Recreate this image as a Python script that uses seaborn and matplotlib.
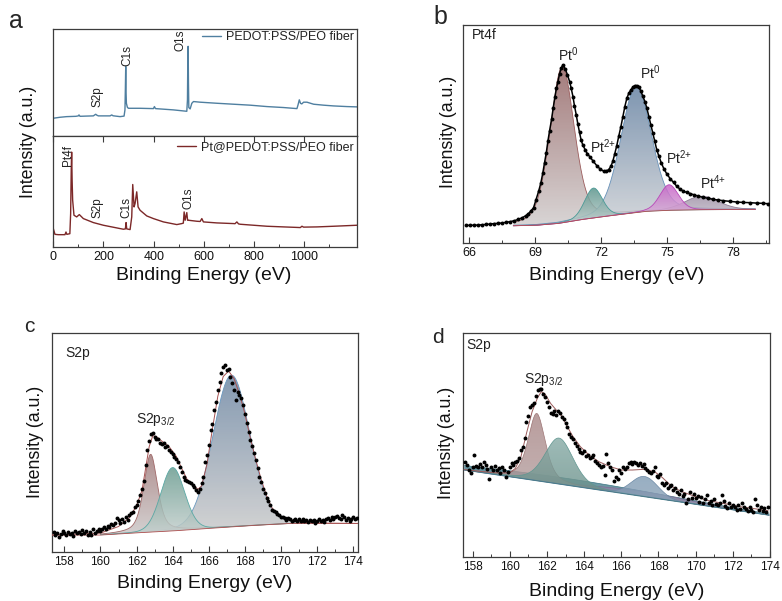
import numpy as np
import matplotlib
matplotlib.use("Agg")
import matplotlib.pyplot as plt
import seaborn as sns
from matplotlib.colors import LinearSegmentedColormap
from matplotlib.patches import Polygon
from matplotlib.ticker import MultipleLocator, FixedLocator

# ---------------------------------------------------------------- survey (a)
survey_energy_pedot = [0, 26.6, 53.2, 90, 99.7, 102.4, 106.4, 130, 159.6, 165.0,
                       168.9, 174.0, 179.5, 226.1, 232.7, 238.0, 266.0, 281.9, 285.5, 287.2,
                       288.6, 290.0, 291.2, 295.0, 299.2, 345.7, 398.9, 402.9, 407.0, 478.7,
                       531.9, 534.5, 535.9, 537.2, 538.5, 539.9, 545.2, 551.9, 558.5, 585.1,
                       651.6, 718.1, 784.6, 851.1, 917.6, 970.7, 975.0, 980.1, 985.0, 990.0,
                       997.3, 1010.6, 1037.2, 1077.1, 1117.0, 1170.2, 1210.1]
survey_counts_pedot = [16.6, 17.5, 18.1, 18.4, 18.8, 19.7, 18.4, 18.6, 18.8, 19.7,
                       20.3, 19.4, 18.8, 18.8, 19.7, 18.9, 18.1, 18.6, 24.4, 45.0,
                       65.0, 40.0, 30.6, 26.9, 25.9, 25.9, 25.6, 27.5, 25.6, 24.4,
                       23.1, 33.8, 70.0, 83.8, 50.0, 26.6, 25.3, 30.6, 32.2, 31.6,
                       30.6, 29.7, 28.8, 27.5, 26.6, 25.6, 29.0, 33.8, 30.5, 30.0,
                       31.6, 31.6, 29.7, 28.8, 28.1, 27.5, 27.2]

survey_energy_pt = [0, 6.6, 20.0, 46.5, 50.5, 54.0, 59.8, 66.0, 69.1, 71.5,
                    73.1, 75.0, 77.1, 82.4, 93.1, 103.7, 119.7, 159.6, 199.5, 252.7,
                    279.3, 287.2, 289.9, 292.6, 305.9, 312.5, 316.5, 321.8, 325.8, 332.4,
                    337.8, 345.7, 372.3, 398.9, 438.8, 492.0, 512.0, 518.0, 521.3, 525.3,
                    531.9, 535.0, 538.6, 571.8, 585.0, 591.8, 598.0, 651.6, 718.1, 724.0,
                    731.4, 738.0, 744.7, 851.1, 917.6, 975.0, 984.0, 990.7, 997.0, 1050.5,
                    1117.0, 1210.1]
survey_counts_pt = [16.6, 11.4, 11.1, 11.1, 13.5, 11.4, 11.7, 12.0, 30.1, 70.0,
                    85.5, 60.0, 42.2, 28.6, 27.1, 29.2, 25.6, 22.0, 19.6, 17.2,
                    16.0, 16.3, 22.0, 16.3, 15.7, 27.1, 56.3, 36.1, 39.2, 49.7,
                    36.1, 33.1, 28.0, 25.6, 22.6, 20.2, 21.1, 21.5, 31.6, 24.1,
                    31.0, 24.1, 24.1, 23.2, 23.0, 25.6, 22.6, 21.7, 21.1, 21.0,
                    22.6, 20.8, 20.5, 18.7, 18.1, 17.6, 17.5, 18.7, 17.9, 18.1,
                    18.7, 19.6]

# ---------------------------------------------------------------- Pt4f (b)
pt4f_energy = [65.86, 66.05, 66.23, 66.41, 66.59, 66.77, 66.95, 67.13, 67.32, 67.50,
               67.68, 67.86, 68.04, 68.22, 68.41, 68.56, 68.68, 68.80, 68.92,
               69.03, 69.15, 69.25, 69.34, 69.42, 69.50, 69.57, 69.65, 69.74, 69.81,
               69.89, 69.96, 70.03, 70.10, 70.18,
               70.25, 70.37, 70.46, 70.56, 70.63, 70.71, 70.78, 70.86, 70.93, 71.01,
               71.08, 71.16, 71.27, 71.37, 71.49, 71.64, 71.80, 71.95, 72.10, 72.22,
               72.33, 72.43, 72.52, 72.61, 72.70, 72.79, 72.89, 72.98, 73.07, 73.16,
               73.25, 73.34, 73.43, 73.52, 73.61, 73.70,
               73.79, 73.88, 73.98, 74.07, 74.16, 74.25, 74.34, 74.43, 74.52, 74.61,
               74.73, 74.85, 74.97, 75.13, 75.28, 75.43, 75.58, 75.73, 75.88, 76.03,
               76.21, 76.41, 76.64, 76.86, 77.09, 77.32, 77.55, 77.85, 78.15, 78.45,
               78.76, 79.06, 79.36, 79.59]
pt4f_counts = [8.1, 8.1, 8.2, 8.2, 8.4, 8.5, 8.7, 8.9, 9.0, 9.2,
               9.5, 9.8, 10.2, 10.8, 11.6, 12.5, 13.4, 14.7, 16.2,
               19.8, 23.7, 27.5, 32.1, 36.9, 41.5, 46.6, 51.6, 56.8, 61.8,
               66.9, 71.0, 74.0, 77.6, 80.2,
               81.7, 79.7, 77.1, 74.0, 71.0, 67.2, 62.9, 58.8, 54.7, 50.7,
               47.3, 44.9, 42.7, 40.9, 39.4, 37.4, 35.4, 33.9, 33.0, 33.0,
               33.6, 35.1, 37.4, 40.9, 44.6, 48.9, 53.4, 58.0, 62.6, 66.4,
               68.7, 70.2, 71.5, 72.2, 72.2, 71.5,
               69.9, 67.5, 64.9, 61.8, 58.0, 54.2, 50.4, 46.6, 42.7, 40.0,
               36.6, 33.9, 31.8, 29.5, 27.8, 26.0, 24.7, 23.8, 23.2, 22.7,
               22.1, 21.5, 20.9, 20.5, 20.0, 19.7, 19.4, 19.1, 18.8, 18.6,
               18.5, 18.3, 18.2, 18.0]
pt4f_bg_energy = [68.0, 69.0, 70.0, 71.0, 72.0, 73.0, 74.0, 75.0, 76.0, 77.0, 79.0]
pt4f_bg_level = [7.9, 8.1, 8.9, 10.6, 12.0, 13.2, 14.5, 15.0, 15.2, 15.3, 15.4]
# components: Pt0 4f7/2, Pt2+ 4f7/2, Pt0 4f5/2, Pt2+ 4f5/2, Pt4+
pt4f_center = [70.22, 71.64, 73.58, 75.08, 76.56]
pt4f_height = [71.6, 13.7, 58.0, 11.7, 6.2]
pt4f_fwhm = [1.30, 0.95, 1.65, 1.00, 1.80]
pt4f_eta = [0.3, 0.2, 0.2, 0.2, 0.2]

# ---------------------------------------------------------------- S2p (c)
s2p_c_energy = [157.4, 157.5, 157.6, 157.7, 157.8, 157.9, 158.0, 158.1, 158.2, 158.3,
                158.4, 158.5, 158.6, 158.7, 158.8, 158.9, 159.0, 159.1, 159.2, 159.3,
                159.4, 159.5, 159.6, 159.7, 159.8, 159.9, 160.0, 160.1, 160.2, 160.3,
                160.4, 160.5, 160.6, 160.7, 160.8, 160.9, 161.0, 161.1, 161.2, 161.3,
                161.4, 161.5, 161.6, 161.7, 161.8, 161.9, 162.0, 162.1, 162.2, 162.3,
                162.4, 162.5, 162.6, 162.7, 162.8, 162.9, 163.0, 163.1, 163.2, 163.3,
                163.4, 163.5, 163.6, 163.7, 163.8, 163.9, 164.0, 164.1, 164.2, 164.3,
                164.4, 164.5, 164.6, 164.7, 164.8, 164.9, 165.0, 165.1, 165.2, 165.3,
                165.4, 165.5, 165.6, 165.7, 165.8, 165.9, 166.0, 166.1, 166.2, 166.3,
                166.4, 166.5, 166.6, 166.7, 166.8, 166.9, 167.0, 167.1, 167.2, 167.3,
                167.4, 167.5, 167.6, 167.7, 167.8, 167.9, 168.0, 168.1, 168.2, 168.3,
                168.4, 168.5, 168.6, 168.7, 168.8, 168.9, 169.0, 169.1, 169.2, 169.3,
                169.4, 169.5, 169.6, 169.7, 169.8, 169.9, 170.0, 170.1, 170.2, 170.3,
                170.4, 170.5, 170.6, 170.7, 170.8, 170.9, 171.0, 171.1, 171.2, 171.3,
                171.4, 171.5, 171.6, 171.7, 171.8, 171.9, 172.0, 172.1, 172.2, 172.3,
                172.4, 172.5, 172.6, 172.7, 172.8, 172.9, 173.0, 173.1, 173.2, 173.3,
                173.4, 173.5, 173.6, 173.7, 173.8, 173.9, 174.0, 174.1, 174.2]
s2p_c_counts = [9.1, 7.6, 8.4, 6.8, 8.1, 9.6, 8.4, 7.5, 9.0, 8.1,
                8.7, 7.2, 9.6, 8.4, 9.0, 8.1, 9.9, 8.7, 9.3, 7.8,
                9.0, 7.6, 10.2, 8.7, 9.6, 10.5, 9.3, 10.5, 11.1, 10.2,
                11.7, 11.1, 12.6, 12.0, 12.9, 15.4, 14.5, 12.9, 14.8, 13.7,
                15.7, 14.5, 16.6, 17.8, 18.3, 20.2, 21.3, 23.3, 25.9, 28.5,
                32.4, 39.6, 46.4, 50.7, 53.7, 54.3, 52.5, 51.6, 51.6, 49.5,
                49.2, 49.8, 47.6, 48.2, 46.4, 45.5, 44.6, 43.4, 42.2, 40.9,
                38.8, 36.5, 33.9, 32.7, 32.4, 31.8, 31.2, 30.3, 29.4, 28.2,
                27.4, 28.5, 31.5, 33.9, 41.1, 44.1, 48.7, 55.6, 58.3, 64.7,
                68.5, 73.8, 77.6, 81.4, 84.2, 85.2, 83.0, 83.6, 79.6, 76.9,
                73.8, 69.3, 73.1, 71.5, 70.0, 67.0, 62.9, 58.9, 54.8, 51.0,
                48.2, 44.9, 41.9, 38.1, 34.2, 32.0, 28.5, 26.9, 24.4, 23.3,
                21.3, 19.0, 18.7, 18.1, 17.2, 16.6, 16.0, 16.0, 15.4, 14.5,
                15.2, 14.8, 13.9, 14.5, 15.1, 14.0, 14.8, 14.2, 15.1, 13.9,
                14.5, 13.4, 14.6, 13.9, 14.5, 13.2, 14.2, 14.8, 13.9, 14.5,
                13.5, 14.8, 15.4, 14.5, 16.0, 15.1, 16.0, 16.3, 15.4, 14.8,
                16.6, 15.7, 14.5, 15.4, 14.2, 15.1, 16.0, 14.8, 15.4]
s2p_c_bg_energy = [157.3, 160.0, 162.2, 164.2, 166.3, 168.5, 170.5, 174.3]
s2p_c_bg_level = [7.6, 7.6, 8.7, 9.6, 10.8, 12.0, 12.9, 12.9]
s2p_c_env_energy = [157.3, 160.0, 161.0, 161.6, 162.0, 162.3, 162.5, 162.7, 162.9, 163.1,
                    163.4, 163.8, 164.2, 164.5, 164.8, 165.1, 165.4, 165.6, 165.9, 166.2,
                    166.5, 166.8, 167.1, 167.4, 167.7, 168.0, 168.3, 168.6, 168.9, 169.2,
                    169.5, 169.9, 170.4, 171.0, 172.0, 174.3]
s2p_c_env_level = [7.6, 8.5, 11.5, 15.5, 21.0, 28.0, 38.0, 48.0, 53.0, 52.5,
                   50.5, 48.0, 43.5, 38.0, 33.0, 30.5, 28.5, 30.0, 40.0, 56.0,
                   71.0, 80.0, 82.5, 79.0, 72.0, 63.0, 52.0, 42.0, 33.0, 25.5,
                   20.0, 16.5, 14.5, 13.5, 13.1, 12.9]
# components: S2p3/2 (thiophene), S2p1/2 (thiophene), sulfonate
s2p_c_center = [162.78, 164.00, 167.25]
s2p_c_height = [35.5, 28.9, 69.3]
s2p_c_fwhm = [0.90, 1.55, 2.43]
s2p_c_eta = [0.5, 0.1, 0.1]

# ---------------------------------------------------------------- S2p (d)
s2p_d_energy = [157.6, 157.7, 157.8, 157.9, 158.0, 158.1, 158.2, 158.3, 158.4, 158.5,
                158.6, 158.7, 158.8, 158.9, 159.0, 159.1, 159.2, 159.3, 159.4, 159.5,
                159.6, 159.7, 159.8, 159.9, 160.0, 160.1, 160.2, 160.3, 160.4, 160.5,
                160.6, 160.7, 160.8, 160.9, 161.0, 161.1, 161.2, 161.3, 161.4, 161.5,
                161.6, 161.7, 161.8, 161.9, 162.0, 162.1, 162.2, 162.3, 162.4, 162.5,
                162.6, 162.7, 162.8, 162.9, 163.0, 163.1, 163.2, 163.3, 163.4, 163.5,
                163.6, 163.7, 163.8, 163.9, 164.0, 164.1, 164.2, 164.3, 164.4, 164.5,
                164.6, 164.7, 164.8, 164.9, 165.0, 165.1, 165.2, 165.3, 165.4, 165.5,
                165.6, 165.7, 165.8, 165.9, 166.0, 166.1, 166.2, 166.3, 166.4, 166.5,
                166.6, 166.7, 166.8, 166.9, 167.0, 167.1, 167.2, 167.3, 167.4, 167.5,
                167.6, 167.7, 167.8, 167.9, 168.0, 168.1, 168.2, 168.3, 168.4, 168.5,
                168.6, 168.7, 168.8, 168.9, 169.0, 169.1, 169.2, 169.3, 169.4, 169.5,
                169.6, 169.7, 169.8, 169.9, 170.0, 170.1, 170.2, 170.3, 170.4, 170.5,
                170.6, 170.7, 170.8, 170.9, 171.0, 171.1, 171.2, 171.3, 171.4, 171.5,
                171.6, 171.7, 171.8, 171.9, 172.0, 172.1, 172.2, 172.3, 172.4, 172.5,
                172.6, 172.7, 172.8, 172.9, 173.0, 173.1, 173.2, 173.3, 173.4, 173.5,
                173.6, 173.7, 173.8, 173.9]
s2p_d_counts = [42.4, 40.9, 38.7, 37.2, 40.2, 45.4, 40.5, 40.2, 41.4, 40.2,
                42.4, 40.9, 39.0, 34.5, 39.9, 38.7, 40.5, 38.7, 39.4, 37.5,
                40.2, 38.7, 35.4, 37.9, 40.2, 41.7, 40.9, 42.4, 42.9, 43.9,
                47.6, 49.1, 52.8, 60.3, 62.8, 67.0, 67.7, 68.4, 71.7, 74.4,
                75.0, 74.7, 72.6, 71.1, 69.2, 67.0, 64.3, 63.7, 65.2, 63.2,
                65.2, 64.0, 62.5, 61.3, 59.8, 58.0, 54.8, 53.6, 52.4, 50.6,
                49.4, 47.9, 46.9, 46.1, 47.3, 44.9, 45.4, 43.9, 44.3, 45.2,
                42.9, 41.7, 40.9, 39.9, 40.5, 36.5, 45.8, 41.7, 40.2, 38.7,
                33.9, 35.7, 34.5, 38.7, 37.5, 39.9, 39.0, 40.2, 41.7, 42.3,
                41.4, 42.4, 41.7, 40.9, 42.0, 40.5, 41.4, 39.4, 38.7, 37.8,
                37.2, 38.1, 40.2, 36.0, 35.7, 36.9, 32.7, 32.1, 33.0, 30.5,
                31.5, 32.0, 29.8, 30.5, 29.0, 28.0, 29.8, 27.1, 28.0, 23.8,
                25.6, 28.9, 26.2, 28.0, 26.0, 27.1, 24.6, 26.5, 23.8, 25.6,
                27.4, 23.8, 25.0, 23.1, 25.6, 23.5, 22.9, 24.1, 27.5, 25.0,
                22.6, 21.6, 23.8, 22.3, 23.1, 22.0, 20.8, 23.1, 21.4, 23.8,
                22.3, 21.1, 20.2, 22.3, 20.8, 19.9, 25.9, 22.9, 20.8, 22.3,
                20.5, 21.6, 20.1, 22.0]
s2p_d_bg_energy = [157.5, 174.0]
s2p_d_bg_level = [38.8, 18.5]
s2p_d_env_energy = [157.55, 158.5, 159.3, 160.0, 160.3, 160.6, 160.9, 161.2, 161.5, 161.7,
                    161.9, 162.2, 162.5, 162.8, 163.1, 163.4, 163.8, 164.3, 164.8, 165.4,
                    166.0, 166.6, 167.2, 167.8, 168.2, 168.7, 169.2, 170.0, 170.7, 171.5,
                    172.4, 173.2, 173.9]
s2p_d_env_level = [38.9, 38.0, 37.4, 37.5, 39.4, 44.6, 55.1, 64.7, 71.1, 73.7,
                   72.6, 68.4, 65.5, 62.8, 58.0, 53.6, 49.1, 45.1, 42.4, 40.2,
                   38.7, 38.7, 39.0, 37.9, 35.4, 31.5, 29.2, 26.8, 25.0, 23.8,
                   22.3, 21.4, 20.5]
s2p_d_center = [163.0, 167.0, 161.45, 162.65, 167.25]
s2p_d_height = [3.0, 2.2, 30.0, 20.5, 9.0]
s2p_d_fwhm = [14.0, 6.0, 1.10, 1.80, 1.70]
s2p_d_eta = [0.0, 0.0, 0.5, 0.3, 0.0]

# ---------------------------------------------------------------- styling
sns.set_style("ticks")
plt.rcParams["font.family"] = ["Liberation Sans", "DejaVu Sans"]
plt.rcParams["mathtext.fontset"] = "custom"
plt.rcParams["mathtext.rm"] = "Liberation Sans"
plt.rcParams["mathtext.it"] = "Liberation Sans:italic"
plt.rcParams["mathtext.bf"] = "Liberation Sans:bold"

W, H = 782, 601
fig = plt.figure(figsize=(W / 100, H / 100), dpi=100)
fig.patch.set_facecolor("white")

SPINE = "#3c3c3c"


def axes_px(left, top, right, bottom):
    return fig.add_axes([left / W, 1 - bottom / H, (right - left) / W, (bottom - top) / H])


def text_px(x, y, s, **kw):
    fig.text(x / W, 1 - y / H, s, **kw)


def style_axes(ax, xlim, ylim, major, minor, labelsize):
    ax.set_xlim(*xlim)
    ax.set_ylim(*ylim)
    ax.set_yticks([])
    ax.set_xlabel("")
    ax.set_ylabel("")
    ax.xaxis.set_major_locator(major)
    ax.xaxis.set_minor_locator(minor)
    ax.tick_params(axis="x", which="major", direction="in", length=4, width=0.8,
                   color=SPINE, labelsize=labelsize, pad=3, labelcolor="#111111")
    ax.tick_params(axis="x", which="minor", direction="in", length=2.2, width=0.7, color=SPINE)
    for sp in ax.spines.values():
        sp.set_visible(True)
        sp.set_color(SPINE)
        sp.set_linewidth(0.9)
    ax.set_facecolor("white")


def pseudo_voigt(x, center, height, fwhm, eta):
    u = (x - center) / fwhm
    gauss = np.exp(-4 * np.log(2) * u ** 2)
    lorentz = 1.0 / (1.0 + 4 * u ** 2)
    return height * ((1 - eta) * gauss + eta * lorentz)


def shaded_peak(ax, x, base, peak, c_top, c_bot, edge, alpha=0.85, z=2, lw=0.6):
    """Fill one fitted component with a vertical colour gradient."""
    top = base + peak
    verts = np.vstack([np.column_stack([x, top]), np.column_stack([x[::-1], base[::-1]])])
    poly = Polygon(verts, closed=True, facecolor="none", edgecolor="none", transform=ax.transData)
    ax.add_patch(poly)
    cmap = LinearSegmentedColormap.from_list("shade", [c_bot, c_top])
    grad = np.linspace(0, 1, 256).reshape(-1, 1)
    im = ax.imshow(grad, cmap=cmap, aspect="auto", origin="lower",
                   extent=[x.min(), x.max(), base.min(), top.max()],
                   alpha=alpha, zorder=z, interpolation="bilinear")
    im.set_clip_path(poly)
    ax.plot(x, top, color=edge, lw=lw, zorder=z + 0.1)


# ---------------------------------------------------------------- panel a
ax_a1 = axes_px(53.3, 29, 357, 136)
ax_a2 = axes_px(53.3, 136, 357, 247)

sns.lineplot(x=survey_energy_pedot, y=survey_counts_pedot, ax=ax_a1, color="#4f7fa0",
             lw=1.0, estimator=None, label="PEDOT:PSS/PEO fiber")
sns.lineplot(x=survey_energy_pt, y=survey_counts_pt, ax=ax_a2, color="#7c2828",
             lw=1.0, estimator=None, label="Pt@PEDOT:PSS/PEO fiber")

for ax in (ax_a1, ax_a2):
    style_axes(ax, (0, 1210), (0, 100),
               FixedLocator([0, 200, 400, 600, 800, 1000]),
               FixedLocator([100, 300, 500, 700, 900, 1100]), 9)
ax_a1.tick_params(axis="x", which="both", bottom=False, labelbottom=False)
ax_a2.tick_params(axis="x", which="major", top=True, direction="in")
ax_a2.tick_params(axis="x", which="minor", top=False)

leg1 = ax_a1.legend(loc="center right", bbox_to_anchor=(0.99, 0.925), frameon=False,
                    fontsize=9, handlelength=1.5, handletextpad=0.4,
                    borderpad=0, borderaxespad=0)
leg2 = ax_a2.legend(loc="center right", bbox_to_anchor=(0.99, 0.90), frameon=False,
                    fontsize=9, handlelength=1.5, handletextpad=0.4,
                    borderpad=0, borderaxespad=0)
for t in leg1.get_texts() + leg2.get_texts():
    t.set_color("#222222")

survey_tags = [(97.5, 97, "S2p"), (127.5, 55, "C1s"), (180.5, 40, "O1s"),
               (67.5, 156, "Pt4f"), (97.5, 208, "S2p"), (126.5, 207, "C1s"), (189, 198, "O1s")]
for x, y, s in survey_tags:
    text_px(x, y, s, rotation=90, ha="center", va="center", fontsize=8.5, color="#222222")

# ---------------------------------------------------------------- panel b
ax_b = axes_px(462.7, 25, 769, 243)
xb = np.linspace(68.0, 79.0, 500)
bg_b = np.interp(xb, pt4f_bg_energy, pt4f_bg_level)
b_styles = [
    ("#946464", "#d2cece", "#9b5c5c", 2.0),
    ("#5a948b", "#c6d3d1", "#4a9a96", 2.6),
    ("#6783a3", "#cfd2d6", "#6690b8", 2.2),
    ("#c862c8", "#ddcddd", "#b848b8", 2.8),
    ("#a092a8", "#d8d4dc", "#8e7e96", 2.4),
]
for c, h, w, e, (ct, cb, ce, z) in zip(pt4f_center, pt4f_height, pt4f_fwhm, pt4f_eta, b_styles):
    shaded_peak(ax_b, xb, bg_b, pseudo_voigt(xb, c, h, w, e), ct, cb, ce, alpha=0.85, z=z)
ax_b.plot(xb, bg_b, color="#b05050", lw=0.6, zorder=3.5)
sns.lineplot(x=pt4f_energy, y=pt4f_counts, ax=ax_b, color="black", lw=1.1, estimator=None, zorder=9)
sns.scatterplot(x=pt4f_energy, y=pt4f_counts, ax=ax_b, color="black", s=8, linewidth=0, zorder=10)
style_axes(ax_b, (65.7, 79.62), (0, 100), MultipleLocator(3), MultipleLocator(1.5), 9)

# ---------------------------------------------------------------- panel c
ax_c = axes_px(51.7, 332.7, 358.3, 551.7)
xc_fill = np.linspace(160.0, 171.5, 500)
bg_c_fill = np.interp(xc_fill, s2p_c_bg_energy, s2p_c_bg_level)
c_styles = [
    ("#a27c7c", "#cdc9c9", "#a06868", 2.4),
    ("#6a9c90", "#c7d1cf", "#5aa8a4", 2.6),
    ("#6f88a4", "#cccccc", "#6a98c0", 2.0),
]
for c, h, w, e, (ct, cb, ce, z) in zip(s2p_c_center, s2p_c_height, s2p_c_fwhm, s2p_c_eta, c_styles):
    shaded_peak(ax_c, xc_fill, bg_c_fill, pseudo_voigt(xc_fill, c, h, w, e), ct, cb, ce, alpha=0.85, z=z)
ax_c.plot(s2p_c_bg_energy, s2p_c_bg_level, color="#b05050", lw=0.6, zorder=3.5)
sns.lineplot(x=s2p_c_env_energy, y=s2p_c_env_level, ax=ax_c, color="#a55252", lw=0.7,
             estimator=None, zorder=4)
sns.scatterplot(x=s2p_c_energy, y=s2p_c_counts, ax=ax_c, color="black", s=8, linewidth=0, zorder=10)
style_axes(ax_c, (157.3, 174.28), (0, 100), MultipleLocator(2), MultipleLocator(1), 8.5)

# ---------------------------------------------------------------- panel d
ax_d = axes_px(463.3, 332.7, 770, 556.7)
xd = np.linspace(157.55, 173.95, 600)
bg_d = np.interp(xd, s2p_d_bg_energy, s2p_d_bg_level)
d_styles = [
    ("#3f7786", "#5b8997", "#3f7786", 2.0),
    ("#8a7ca2", "#9a8eae", "#7e7096", 2.1),
    ("#a88585", "#b9a7a7", "#9c7474", 2.3),
    ("#86aba6", "#5f857e", "#5f9690", 2.5),
    ("#7b98b2", "#90a6ba", "#6d8aa6", 2.7),
]
for c, h, w, e, (ct, cb, ce, z) in zip(s2p_d_center, s2p_d_height, s2p_d_fwhm, s2p_d_eta, d_styles):
    shaded_peak(ax_d, xd, bg_d, pseudo_voigt(xd, c, h, w, e), ct, cb, ce, alpha=0.8, z=z, lw=0.5)
ax_d.plot(xd, bg_d, color="#4a7c8c", lw=0.8, zorder=3.5)
sns.lineplot(x=s2p_d_env_energy, y=s2p_d_env_level, ax=ax_d, color="#9a5a5a", lw=0.7,
             estimator=None, zorder=4)
sns.scatterplot(x=s2p_d_energy, y=s2p_d_counts, ax=ax_d, color="black", s=8, linewidth=0, zorder=10)
style_axes(ax_d, (157.5, 174.0), (0, 100), MultipleLocator(2), MultipleLocator(1), 8.5)

# ---------------------------------------------------------------- labels
XL = dict(fontsize=14, ha="center", va="center", color="#111111")
YL = dict(fontsize=12.8, ha="center", va="center", rotation=90, color="#111111")
text_px(204, 276, "Binding Energy (eV)", **XL)
text_px(617, 275, "Binding Energy (eV)", **XL)
text_px(205, 584, "Binding Energy (eV)", **XL)
text_px(617, 592, "Binding Energy (eV)", **XL)
text_px(28.3, 141.7, "Intensity (a.u.)", **YL)
text_px(448.3, 131.7, "Intensity (a.u.)", **YL)
text_px(35, 441.7, "Intensity (a.u.)", **YL)
text_px(446.7, 443.3, "Intensity (a.u.)", **YL)

text_px(16, 21, "a", fontsize=18, ha="center", va="center")
text_px(440, 17, "b", fontsize=18, ha="center", va="center")
text_px(29, 326, "c", fontsize=15, ha="center", va="center")
text_px(438, 338, "d", fontsize=15, ha="center", va="center")

text_px(471.7, 35, "Pt4f", fontsize=10, ha="left", va="center", color="#222222")
text_px(65, 353, "S2p", fontsize=10, ha="left", va="center", color="#222222")
text_px(466.7, 345, "S2p", fontsize=10, ha="left", va="center", color="#222222")

PK = dict(fontsize=10, ha="center", va="center", color="#222222")
text_px(568, 55, r"Pt$^{\mathregular{0}}$", **PK)
text_px(603, 147, r"Pt$^{\mathregular{2{+}}}$", **PK)
text_px(650, 73, r"Pt$^{\mathregular{0}}$", **PK)
text_px(679, 158, r"Pt$^{\mathregular{2{+}}}$", **PK)
text_px(713, 183, r"Pt$^{\mathregular{4{+}}}$", **PK)
text_px(156, 419, r"S2p$_{\mathregular{3/2}}$", **PK)
text_px(544, 379, r"S2p$_{\mathregular{3/2}}$", **PK)

fig.savefig("out.png", dpi=100, facecolor="white")
